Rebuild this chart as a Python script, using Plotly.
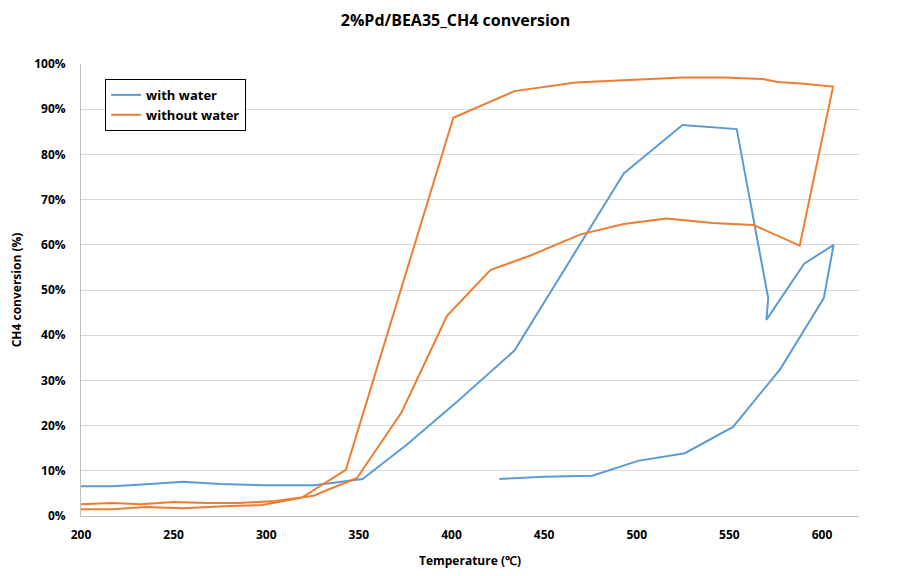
import plotly.graph_objects as go

# with water (temperature °C, conversion %)
with_water_T = [200, 217, 235, 255, 275, 299, 326, 352, 376, 403, 434, 465, 493, 524.7,
                554, 571, 570, 590.4, 606.3, 601, 577.5, 552, 526, 500.7, 476, 450, 425.8]
with_water_X = [6.6, 6.6, 7.0, 7.6, 7.1, 6.8, 6.8, 8.2, 15.8, 25.3, 36.6, 57.3, 75.8, 86.5,
                85.6, 48.2, 43.4, 55.8, 60.0, 48.2, 32.5, 19.7, 13.9, 12.2, 8.9, 8.7, 8.2]

# without water
without_water_T = [200, 217, 232, 250, 268, 285, 305, 325.5, 349, 373, 397.6, 421, 443, 469.7,
                   493, 516, 541, 563, 588, 606, 588.6, 576, 568, 547, 525, 495, 467, 434,
                   401, 343, 319, 297, 280, 255, 235, 217, 200]
without_water_X = [2.6, 2.9, 2.6, 3.1, 2.9, 2.9, 3.3, 4.5, 8.4, 22.9, 44.3, 54.4, 57.7, 62.3,
                   64.6, 65.8, 64.8, 64.4, 59.8, 95.0, 95.7, 96.0, 96.7, 97.0, 97.0, 96.5, 95.9, 94.0,
                   88.1, 10.2, 4.0, 2.4, 2.2, 1.7, 2.0, 1.5, 1.5]

x_ticks = [200, 250, 300, 350, 400, 450, 500, 550, 600]
y_ticks = [0, 10, 20, 30, 40, 50, 60, 70, 80, 90, 100]

FONT = "Open Sans"
W, H = 895, 568  # page body margin of 8px shifts the figure

fig = go.Figure()
fig.add_trace(go.Scatter(x=with_water_T, y=with_water_X, mode="lines", name="with water",
                         line=dict(color="#5B9BD5", width=2)))
fig.add_trace(go.Scatter(x=without_water_T, y=without_water_X, mode="lines", name="without water",
                         line=dict(color="#ED7D31", width=2)))

fig.update_layout(
    width=W, height=H,
    margin=dict(l=73, r=44, t=56, b=60, autoexpand=False),
    paper_bgcolor="white", plot_bgcolor="white",
    font=dict(family=FONT, size=12, color="#000000"),
    title=dict(text="<b>2%Pd/BEA35_CH4 conversion</b>", x=0.5, xanchor="center", xref="container",
               y=1 - 12 / H, yanchor="middle", yref="container", automargin=False,
               font=dict(size=16, family=FONT, color="#000")),
    showlegend=True,
    legend=dict(x=0.031, y=0.967, xanchor="left", yanchor="top",
                bordercolor="#000000", borderwidth=1, bgcolor="white",
                font=dict(size=13, family=FONT, color="#000", weight="bold"),
                tracegroupgap=2),
    xaxis=dict(range=[200, 620], tickvals=x_ticks, ticktext=[str(v) for v in x_ticks],
               automargin=False, ticklabelstandoff=8,
               showgrid=False, zeroline=False, showline=True, linecolor="#BFBFBF", linewidth=1,
               ticks="", tickfont=dict(size=12, family=FONT, color="#000", weight="bold"),
               title=dict(text="<b>Temperature (℃)</b>", font=dict(size=12, family=FONT), standoff=14)),
    yaxis=dict(range=[0, 100], tickvals=y_ticks, ticktext=[f"{v}%" for v in y_ticks],
               automargin=False, ticklabelstandoff=12,
               showgrid=True, gridcolor="#D9D9D9", gridwidth=1, zeroline=False,
               showline=True, linecolor="#BFBFBF", linewidth=1, ticks="",
               tickfont=dict(size=12, family=FONT, color="#000", weight="bold"),
               title=dict(text="<b>CH4 conversion (%)</b>", font=dict(size=12, family=FONT), standoff=10)),
)

fig.write_html("out.html")
